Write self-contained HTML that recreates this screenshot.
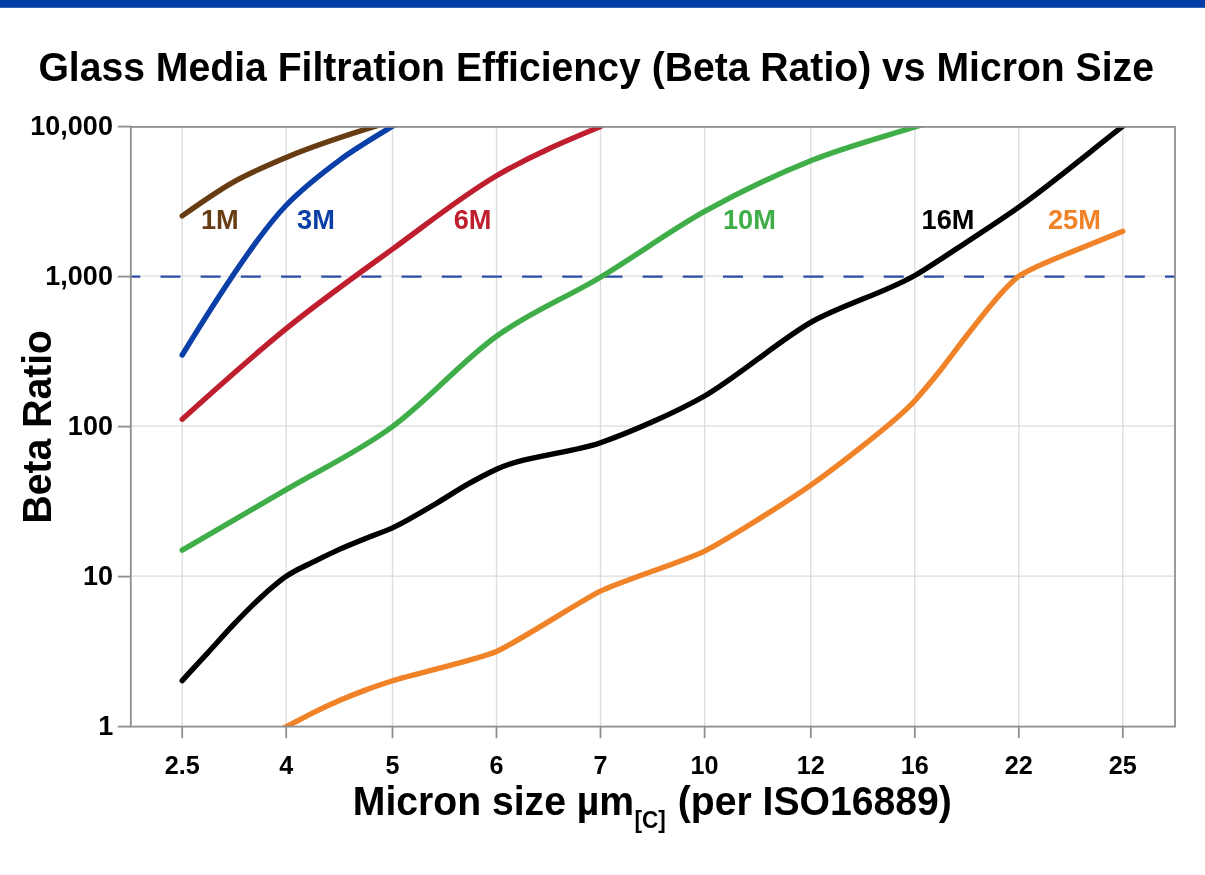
<!DOCTYPE html>
<html><head><meta charset="utf-8"><title>Glass Media Filtration Efficiency</title>
<style>
html,body{margin:0;padding:0;background:#fff;}
body{width:1205px;height:875px;overflow:hidden;font-family:"Liberation Sans",Arial,Helvetica,sans-serif;}
svg{display:block;}
svg text{font-family:"Liberation Sans",Arial,Helvetica,sans-serif;font-weight:bold;}
</style></head><body>
<svg width="1205" height="875" viewBox="0 0 1205 875">
<rect x="0" y="0" width="1205" height="875" fill="#ffffff"/>
<rect x="0" y="0" width="1205" height="7.8" fill="#003da6"/>
<text transform="translate(38.4,80.7) scale(1,1.04)" font-size="39.14" fill="#000">Glass Media Filtration Efficiency (Beta Ratio) vs Micron Size</text>
<g stroke="#dcdcdc" stroke-width="1.3" fill="none"><line x1="182.2" y1="126.9" x2="182.2" y2="726.6"/><line x1="286.2" y1="126.9" x2="286.2" y2="726.6"/><line x1="392.5" y1="126.9" x2="392.5" y2="726.6"/><line x1="496.5" y1="126.9" x2="496.5" y2="726.6"/><line x1="600.5" y1="126.9" x2="600.5" y2="726.6"/><line x1="704.6" y1="126.9" x2="704.6" y2="726.6"/><line x1="810.8" y1="126.9" x2="810.8" y2="726.6"/><line x1="914.8" y1="126.9" x2="914.8" y2="726.6"/><line x1="1018.8" y1="126.9" x2="1018.8" y2="726.6"/><line x1="1122.8" y1="126.9" x2="1122.8" y2="726.6"/><line x1="130.8" y1="576.2" x2="1175" y2="576.2"/><line x1="130.8" y1="426.2" x2="1175" y2="426.2"/><line x1="130.8" y1="276.2" x2="1175" y2="276.2"/></g>
<line x1="120.3" y1="276.6" x2="1175" y2="276.6" stroke="#2c4ea8" stroke-width="2.2" stroke-dasharray="20 20.18" clip-path="url(#cp)"/>
<defs><clipPath id="cp"><rect x="130.8" y="126.9" width="1044.2" height="600"/></clipPath></defs>
<g clip-path="url(#cp)" fill="none" stroke-width="5.4" stroke-linecap="round" stroke-linejoin="round"><path d="M182.20,215.87C197.80,204.83,218.60,190.35,234.20,181.58C249.80,172.81,270.60,164.05,286.20,157.43C318.09,143.89,360.61,130.62,392.50,120.99" stroke="#683c13"/><path d="M182.20,355.03C213.40,303.96,255.00,237.91,286.20,205.25C302.14,188.56,323.41,172.15,339.35,160.30C355.30,148.45,376.56,135.91,392.50,126.28C398.74,122.50,407.06,117.64,413.30,114.00" stroke="#0b3fa8"/><path d="M182.20,419.22C216.87,387.96,251.53,356.71,286.20,328.62C321.63,299.91,357.07,274.84,392.50,249.11C427.17,223.93,461.83,196.20,496.50,175.79C531.17,155.37,565.83,140.98,600.50,126.60" stroke="#be1e2d"/><path d="M182.20,550.19C216.87,530.09,251.53,510.00,286.20,489.63C321.63,468.81,357.07,452.54,392.50,426.60C427.17,401.22,461.83,361.18,496.50,336.29C531.17,311.40,565.83,298.06,600.50,277.25C635.20,256.43,669.90,230.70,704.60,211.41C740.00,191.74,775.40,174.86,810.80,160.70C845.47,146.83,880.13,137.74,914.80,127.00C920.00,125.39,925.20,123.79,930.40,122.20" stroke="#3fae49"/><path d="M182.20,680.60C189.57,672.59,200.83,660.33,208.20,652.30C215.57,644.27,226.83,631.61,234.20,623.90C241.57,616.19,252.83,604.69,260.20,597.90C264.03,594.37,269.89,589.17,273.72,586.00C277.26,583.08,282.66,578.69,286.20,576.30C288.91,574.47,293.06,572.12,295.77,570.60C300.59,567.91,307.96,564.56,312.77,562.20C320.30,558.52,331.82,552.79,339.35,549.40C346.88,546.01,358.40,541.35,365.93,538.30C373.45,535.25,384.97,531.32,392.50,527.90C404.88,522.27,423.80,510.80,436.18,503.50C445.02,498.29,458.54,489.40,467.38,484.40C475.63,479.73,488.25,473.02,496.50,469.20C525.97,455.55,571.03,453.15,600.50,442.79C630.00,432.41,675.11,412.79,704.60,395.98C734.69,378.83,780.71,339.58,810.80,322.41C840.27,305.59,885.33,292.59,914.80,275.50C929.53,266.96,952.07,251.69,966.80,242.00C981.53,232.31,1004.07,217.51,1018.80,207.10C1048.27,186.28,1093.33,149.15,1122.80,126.20C1128.69,121.61,1137.71,114.59,1143.60,110.00" stroke="#000000"/><path d="M275.80,731.60C277.71,730.74,284.29,727.71,286.20,726.80C291.07,724.47,307.90,715.30,312.77,712.90C317.65,710.50,334.48,702.71,339.35,700.60C344.22,698.49,361.05,691.72,365.93,689.90C370.80,688.08,387.63,682.41,392.50,680.80C411.57,674.50,477.43,659.66,496.50,651.44C515.57,643.22,581.43,600.34,600.50,591.14C619.59,581.93,685.51,560.63,704.60,551.06C724.07,541.30,791.33,499.13,810.80,485.16C829.87,471.48,895.73,421.92,914.80,400.70C919.57,395.39,936.03,375.78,940.80,369.80C945.57,363.82,962.03,341.63,966.80,335.50C971.57,329.37,988.03,308.43,992.80,302.90C995.66,299.58,1005.54,288.53,1008.40,285.70C1010.31,283.81,1016.89,277.65,1018.80,276.20C1021.66,274.02,1031.54,269.34,1034.40,267.90C1041.07,264.55,1064.13,255.00,1070.80,252.20C1080.33,248.20,1113.27,235.05,1122.80,231.30" stroke="#f08228"/></g>
<g stroke="#8e8e8e" stroke-width="1.8" fill="none"><line x1="182.2" y1="726.6" x2="182.2" y2="738.1"/><line x1="286.2" y1="726.6" x2="286.2" y2="738.1"/><line x1="392.5" y1="726.6" x2="392.5" y2="738.1"/><line x1="496.5" y1="726.6" x2="496.5" y2="738.1"/><line x1="600.5" y1="726.6" x2="600.5" y2="738.1"/><line x1="704.6" y1="726.6" x2="704.6" y2="738.1"/><line x1="810.8" y1="726.6" x2="810.8" y2="738.1"/><line x1="914.8" y1="726.6" x2="914.8" y2="738.1"/><line x1="1018.8" y1="726.6" x2="1018.8" y2="738.1"/><line x1="1122.8" y1="726.6" x2="1122.8" y2="738.1"/><line x1="117.8" y1="726.6" x2="130.8" y2="726.6"/><line x1="117.8" y1="576.6" x2="130.8" y2="576.6"/><line x1="117.8" y1="426.6" x2="130.8" y2="426.6"/><line x1="117.8" y1="276.6" x2="130.8" y2="276.6"/><line x1="117.8" y1="126.6" x2="130.8" y2="126.6"/><rect x="130.8" y="126.9" width="1044.2" height="599.7"/></g>
<g font-size="25.2" fill="#000" text-anchor="middle"><text transform="translate(182.2,773.8) scale(1,1.04)">2.5</text><text transform="translate(286.2,773.8) scale(1,1.04)">4</text><text transform="translate(392.5,773.8) scale(1,1.04)">5</text><text transform="translate(496.5,773.8) scale(1,1.04)">6</text><text transform="translate(600.5,773.8) scale(1,1.04)">7</text><text transform="translate(704.6,773.8) scale(1,1.04)">10</text><text transform="translate(810.8,773.8) scale(1,1.04)">12</text><text transform="translate(914.8,773.8) scale(1,1.04)">16</text><text transform="translate(1018.8,773.8) scale(1,1.04)">22</text><text transform="translate(1122.8,773.8) scale(1,1.04)">25</text></g>
<g font-size="27" fill="#000" text-anchor="end"><text transform="translate(113.3,735.0) scale(1,1.04)">1</text><text transform="translate(112.9,585.0) scale(1,1.04)">10</text><text transform="translate(112.9,435.0) scale(1,1.04)">100</text><text transform="translate(112.9,285.0) scale(1,1.04)">1,000</text><text transform="translate(112.9,135.0) scale(1,1.04)">10,000</text></g>
<g font-size="27.2"><text transform="translate(201.0,228.7) scale(1,1.04)" fill="#683c13">1M</text><text transform="translate(297.1,228.7) scale(1,1.04)" fill="#0b3fa8">3M</text><text transform="translate(453.7,228.7) scale(1,1.04)" fill="#be1e2d">6M</text><text transform="translate(722.9,228.7) scale(1,1.04)" fill="#3fae49">10M</text><text transform="translate(921.6,228.7) scale(1,1.04)" fill="#000000">16M</text><text transform="translate(1047.9,228.7) scale(1,1.04)" fill="#f08228">25M</text></g>
<text transform="translate(51,523.5) rotate(-90) scale(1,1.04)" font-size="39.14" fill="#000">Beta Ratio</text>
<text transform="translate(352.8,814.5) scale(1,1.04)" font-size="39.14" fill="#000" xml:space="preserve">Micron size µm<tspan font-size="22.5" font-weight="bold" dy="13" dx="0.4">[C]</tspan><tspan dy="-13" dx="1.2"> (per ISO16889)</tspan></text>
</svg>
</body></html>
